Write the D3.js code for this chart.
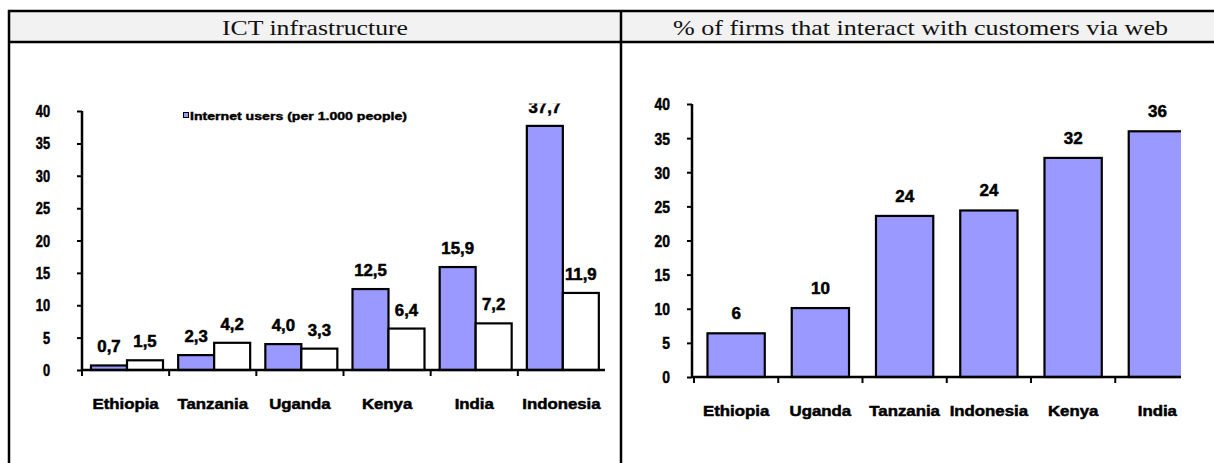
<!DOCTYPE html>
<html>
<head>
<meta charset="utf-8">
<script src="https://cdn.jsdelivr.net/npm/d3@7"></script>
<style>
  body { margin: 0; background: #fff; }
  svg { display: block; }
</style>
</head>
<body>
<svg id="chart" width="1214" height="463"></svg>
<script>
// ICT infrastructure: internet users per 1,000 people and a second indicator
const ictCountries = ["Ethiopia", "Tanzania", "Uganda", "Kenya", "India", "Indonesia"];
const internetUsers = [0.7, 2.3, 4.0, 12.5, 15.9, 37.7];
const secondIndicator = [1.5, 4.2, 3.3, 6.4, 7.2, 11.9];
const ictTicks = [0, 5, 10, 15, 20, 25, 30, 35, 40];
const ictLegend = "Internet users (per 1.000 people)";

// Share of firms that interact with customers via the web (%)
const webCountries = ["Ethiopia", "Uganda", "Tanzania", "Indonesia", "Kenya", "India"];
const webShare = [6.4, 10.1, 23.6, 24.4, 32.1, 36.0];
const webTicks = [0, 5, 10, 15, 20, 25, 30, 35, 40];

const titles = ["ICT infrastructure", "% of firms that interact with customers via web"];

const svg = d3.select("#chart");
const PURPLE = "#9999ff";
const SANS = "'Liberation Sans', Arial, sans-serif";
const SERIF = "'Liberation Serif', 'Times New Roman', serif";
const commaFmt = v => d3.format(".1f")(v).replace(".", ",");

// ---------- table frame ----------
const frame = svg.append("g");
frame.append("rect").attr("x", 9).attr("y", 11).attr("width", 1214 - 9).attr("height", 31).attr("fill", "#f2f2f2");
frame.append("line").attr("x1", 8).attr("x2", 1214).attr("y1", 11).attr("y2", 11).attr("stroke", "#000").attr("stroke-width", 2.5);
frame.append("line").attr("x1", 8).attr("x2", 1214).attr("y1", 42).attr("y2", 42).attr("stroke", "#000").attr("stroke-width", 2.5);
frame.append("line").attr("x1", 9).attr("x2", 9).attr("y1", 10).attr("y2", 463).attr("stroke", "#000").attr("stroke-width", 2.5);
frame.append("line").attr("x1", 621).attr("x2", 621).attr("y1", 10).attr("y2", 463).attr("stroke", "#000").attr("stroke-width", 2.5);

const titleLen = [186, 495];
const titleX = [315, 920.5];
frame.selectAll("text.title").data(titles).join("text")
  .attr("class", "title")
  .attr("x", (d, i) => titleX[i] - titleLen[i] / 2)
  .attr("y", 35)
  .attr("font-family", SERIF)
  .attr("font-size", 22)
  .attr("textLength", (d, i) => titleLen[i])
  .attr("lengthAdjust", "spacingAndGlyphs")
  .attr("fill", "#111")
  .text(d => d);

// helper: horizontally scaled heavy label
function label(g, x, y, txt, size, sx, anchor) {
  return g.append("text")
    .attr("transform", `translate(${x},${y}) scale(${sx},1)`)
    .attr("text-anchor", anchor || "middle")
    .attr("font-family", SANS)
    .attr("font-weight", "bold")
    .attr("font-size", size)
    .attr("fill", "#000")
    .attr("stroke", "#000")
    .attr("stroke-width", 0.5)
    .text(txt);
}

// condensed, heavy tick numbers; the label's right edge stays `gap` px left of the axis
function styleTicks(axisG, gap, size, sx) {
  axisG.selectAll(".tick text")
    .attr("font-family", SANS).attr("font-weight", "bold").attr("font-size", size)
    .attr("stroke", "#000").attr("stroke-width", 0.5)
    .attr("x", -gap / sx)
    .attr("transform", `scale(${sx},1)`)
    .attr("dy", "0.35em");
}

// ---------- left chart ----------
{
  const g = svg.append("g");
  g.append("clipPath").attr("id", "clipL").append("rect").attr("x", 10).attr("y", 103.5).attr("width", 610).attr("height", 360);
  const plot = g.append("g").attr("clip-path", "url(#clipL)");

  const y = d3.scaleLinear().domain([0, 40]).range([370, 111]);
  const x = d3.scaleBand().domain(ictCountries).range([82, 605]);
  const sub = d3.scaleBand().domain(["users", "other"]).range([9, 81]);

  const rows = ictCountries.map((c, i) => ({ c, users: internetUsers[i], other: secondIndicator[i] }));

  // y axis
  const yAxis = d3.axisLeft(y).tickValues(ictTicks).tickSize(5).tickFormat(d3.format("d"));
  const ya = plot.append("g").attr("transform", "translate(82,0)").call(yAxis);
  ya.select(".domain").attr("stroke-width", 2.5).attr("d", "M0,370V111");
  ya.selectAll(".tick line").attr("stroke-width", 2);
  styleTicks(ya, 32, 16, 0.8);

  // bars
  const grp = plot.selectAll("g.grp").data(rows).join("g").attr("class", "grp")
    .attr("transform", d => `translate(${x(d.c)},0)`);
  grp.append("rect").attr("x", sub("users")).attr("width", sub.bandwidth())
    .attr("y", d => y(d.users)).attr("height", d => y(0) - y(d.users))
    .attr("fill", PURPLE).attr("stroke", "#000").attr("stroke-width", 2.2);
  grp.append("rect").attr("x", sub("other")).attr("width", sub.bandwidth())
    .attr("y", d => y(d.other)).attr("height", d => y(0) - y(d.other))
    .attr("fill", "#fff").attr("stroke", "#000").attr("stroke-width", 2.2);

  // x axis
  plot.append("line").attr("x1", 82).attr("x2", 605).attr("y1", y(0)).attr("y2", y(0)).attr("stroke", "#000").attr("stroke-width", 2.5);
  plot.selectAll("line.xt").data(ictCountries).join("line").attr("class", "xt")
    .attr("x1", d => x(d)).attr("x2", d => x(d)).attr("y1", y(0)).attr("y2", y(0) + 6)
    .attr("stroke", "#000").attr("stroke-width", 2);

  // value labels
  rows.forEach(d => {
    label(plot, x(d.c) + sub("users") + sub.bandwidth() / 2, y(d.users) - 13, commaFmt(d.users), 16, 1.05);
    label(plot, x(d.c) + sub("other") + sub.bandwidth() / 2, y(d.other) - 13, commaFmt(d.other), 16, 1.05);
  });

  // category labels
  ictCountries.forEach(c => label(plot, x(c) + x.bandwidth() / 2, 409, c, 15, 1.12));

  // legend
  plot.append("rect").attr("x", 183.5).attr("y", 112.5).attr("width", 5).attr("height", 5)
    .attr("fill", PURPLE).attr("stroke", "#000").attr("stroke-width", 1);
  plot.append("text").attr("x", 190).attr("y", 120)
    .attr("font-family", SANS).attr("font-weight", "bold").attr("font-size", 10.5)
    .attr("stroke", "#000").attr("stroke-width", 0.4)
    .attr("textLength", 217).attr("lengthAdjust", "spacingAndGlyphs")
    .text(ictLegend);
}

// ---------- right chart ----------
{
  const g = svg.append("g");
  g.append("clipPath").attr("id", "clipR").append("rect").attr("x", 623).attr("y", 44).attr("width", 558).attr("height", 419);
  const plot = g.append("g").attr("clip-path", "url(#clipR)");

  const y = d3.scaleLinear().domain([0, 40]).range([377, 104]);
  const x = d3.scaleBand().domain(webCountries).range([694, 1199.5]).paddingInner(0.32).paddingOuter(0.16);
  const edge = d => x(d) - (x.step() - x.bandwidth()) / 2;

  const yAxis = d3.axisLeft(y).tickValues(webTicks).tickSize(5).tickFormat(d3.format("d"));
  const ya = plot.append("g").attr("transform", "translate(692,0)").call(yAxis);
  ya.select(".domain").attr("stroke-width", 2.5).attr("d", "M0,377V104");
  ya.selectAll(".tick line").attr("stroke-width", 2);
  styleTicks(ya, 22, 17, 0.82);

  plot.selectAll("rect.bar").data(webCountries).join("rect").attr("class", "bar")
    .attr("x", d => x(d)).attr("width", x.bandwidth())
    .attr("y", (d, i) => y(webShare[i])).attr("height", (d, i) => y(0) - y(webShare[i]))
    .attr("fill", PURPLE).attr("stroke", "#000").attr("stroke-width", 2.2);

  plot.append("line").attr("x1", 692).attr("x2", 1199).attr("y1", y(0)).attr("y2", y(0)).attr("stroke", "#000").attr("stroke-width", 2.5);
  plot.selectAll("line.xt").data(webCountries).join("line").attr("class", "xt")
    .attr("x1", d => edge(d)).attr("x2", d => edge(d)).attr("y1", y(0)).attr("y2", y(0) + 6)
    .attr("stroke", "#000").attr("stroke-width", 2);

  webCountries.forEach((c, i) => {
    label(plot, x(c) + x.bandwidth() / 2, y(webShare[i]) - 14, d3.format(".0f")(webShare[i]), 17, 1.0);
    label(plot, x(c) + x.bandwidth() / 2, 416, c, 15, 1.12);
  });
}
</script>
</body>
</html>
